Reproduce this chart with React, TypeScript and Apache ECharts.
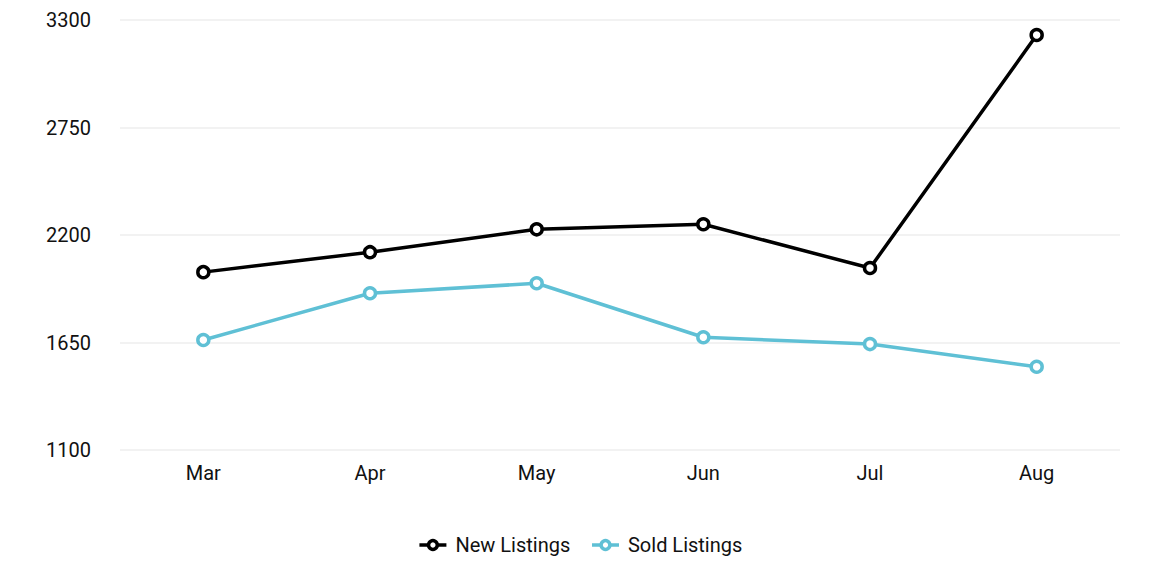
import React, { useEffect, useRef } from "react";
import * as echarts from "echarts";

const categories = ["Mar", "Apr", "May", "Jun", "Jul", "Aug"];
const newListings = [2010, 2112, 2229, 2255, 2031, 3223];
const soldListings = [1663, 1902, 1953, 1677, 1642, 1526];
const yMin = 1100;
const yMax = 3300;
const yInterval = 550;

export default function App() {
  const ref = useRef<HTMLDivElement>(null);
  useEffect(() => {
    document.body.style.margin = "0";
    const chart = echarts.init(ref.current!, null, { renderer: "svg" });
    const font = "Roboto";
    const mk = (name: string, data: number[], color: string) => ({
      name,
      type: "line",
      data,
      symbol: "circle",
      symbolSize: 11,
      color,
      lineStyle: { width: 3.5, color },
      itemStyle: { color: "#ffffff", borderWidth: 3.5, borderColor: color },
    });
    chart.setOption({
      animation: false,
      textStyle: { fontFamily: font },
      grid: { left: 120, right: 40, top: 20, bottom: 130 },
      legend: {
        bottom: 20,
        left: "center",
        itemWidth: 27,
        itemHeight: 11,
        itemGap: 20,
        itemStyle: { borderWidth: 3.5, color: "#ffffff" },
        lineStyle: { width: 3.5 },
        textStyle: { fontSize: 20, color: "#111", fontFamily: font, padding: [0, 0, 0, 4] },
        data: ["New Listings", "Sold Listings"],
      },
      xAxis: {
        type: "category",
        data: categories,
        axisLine: { show: false },
        axisTick: { show: false },
        axisLabel: { fontSize: 20, color: "#111", margin: 13, fontFamily: font },
      },
      yAxis: {
        type: "value",
        min: yMin,
        max: yMax,
        interval: yInterval,
        axisLine: { show: false },
        axisTick: { show: false },
        axisLabel: { fontSize: 20, color: "#111", margin: 29, fontFamily: font, formatter: (v: number) => String(v) },
        splitLine: { lineStyle: { color: "#f2f2f2", width: 2 } },
      },
      series: [
        mk("New Listings", newListings, "#000000"),
        mk("Sold Listings", soldListings, "#5fc0d5"),
      ],
    });
    return () => chart.dispose();
  }, []);
  return <div ref={ref} style={{ width: 1160, height: 580 }} />;
}
